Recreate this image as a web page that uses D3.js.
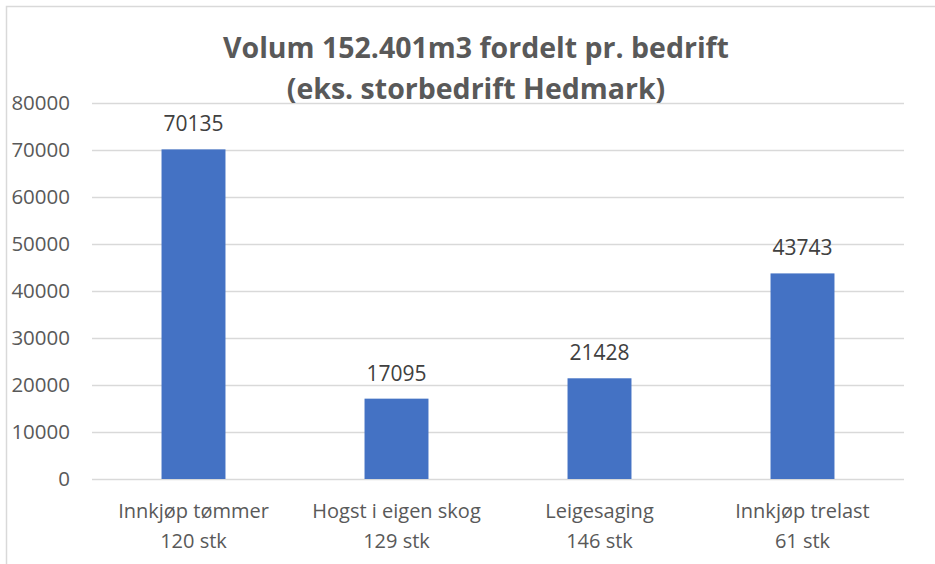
<!DOCTYPE html>
<meta charset="utf-8">
<script src="https://d3js.org/d3.v7.min.js"></script>
<style>
  body { margin: 0; background: #fff; }
  svg { display: block; font-family: "Open Sans", sans-serif; }
</style>
<div id="chart"></div>
<script>
// data
var categories = ["Innkjøp tømmer", "Hogst i eigen skog", "Leigesaging", "Innkjøp trelast"];
var counts = ["120 stk", "129 stk", "146 stk", "61 stk"];
var volumes = [70135, 17095, 21428, 43743];
var yTicks = [0, 10000, 20000, 30000, 40000, 50000, 60000, 70000, 80000];
var titleLines = ["Volum 152.401m3 fordelt pr. bedrift", "(eks. storbedrift Hedmark)"];

var W = 935, H = 564;
var margin = {top: 103, right: 31, bottom: 85, left: 92};
var width = W - margin.left - margin.right,
    height = H - margin.top - margin.bottom;

var svg = d3.select("#chart").append("svg")
  .attr("width", W).attr("height", H);

// chart frame (only top/left edge visible in the crop)
svg.append("rect")
  .attr("x", 6.5).attr("y", 6.5)
  .attr("width", W + 20).attr("height", H + 20)
  .attr("fill", "none").attr("stroke", "#d9d9d9").attr("stroke-width", 1.5);

var g = svg.append("g")
  .attr("transform", "translate(" + margin.left + "," + margin.top + ")");

var x = d3.scaleBand()
  .domain(categories)
  .range([0, width])
  .paddingInner(0.685)
  .paddingOuter(0.3425);

var y = d3.scaleLinear()
  .domain([0, 80000])
  .range([height, 0]);

// gridlines
g.append("g")
  .call(d3.axisLeft(y).tickValues(yTicks).tickSize(-width).tickFormat(""))
  .call(function(s){ s.select(".domain").remove(); })
  .selectAll("line")
    .attr("stroke", "#d9d9d9").attr("stroke-width", 1.5);

// y tick labels
g.append("g")
  .call(d3.axisLeft(y).tickValues(yTicks).tickSize(0).tickPadding(22).tickFormat(d3.format("d")))
  .call(function(s){ s.select(".domain").remove(); })
  .selectAll("text")
    .attr("font-family", "Open Sans")
    .attr("font-size", "20.5px")
    .attr("fill", "#595959");

// bars
g.selectAll(".bar")
  .data(volumes)
  .enter().append("rect")
    .attr("class", "bar")
    .attr("x", function(d, i){ return x(categories[i]); })
    .attr("y", function(d){ return y(d); })
    .attr("width", x.bandwidth())
    .attr("height", function(d){ return height - y(d); })
    .attr("fill", "#4472c4");

// value labels
g.selectAll(".val")
  .data(volumes)
  .enter().append("text")
    .attr("class", "val")
    .attr("x", function(d, i){ return x(categories[i]) + x.bandwidth() / 2; })
    .attr("y", function(d){ return y(d) - 18; })
    .attr("text-anchor", "middle")
    .attr("font-size", "21px")
    .attr("fill", "#404040")
    .text(function(d){ return d; });

// category labels, two lines
var cat = g.selectAll(".cat")
  .data(categories)
  .enter().append("text")
    .attr("class", "cat")
    .attr("text-anchor", "middle")
    .attr("font-size", "20px")
    .attr("fill", "#595959")
    .attr("transform", function(d){ return "translate(" + (x(d) + x.bandwidth() / 2) + "," + (height + 39) + ")"; });
cat.append("tspan").attr("x", 0).attr("y", 0).text(function(d){ return d; });
cat.append("tspan").attr("x", 0).attr("y", 30).text(function(d, i){ return counts[i]; });

// title
svg.append("text")
  .attr("x", 476).attr("y", 58)
  .attr("text-anchor", "middle")
  .attr("font-size", "28.5px")
  .attr("font-weight", "bold")
  .attr("fill", "#595959")
  .selectAll("tspan")
  .data(titleLines)
  .enter().append("tspan")
    .attr("x", 476)
    .attr("dy", function(d, i){ return i === 0 ? 0 : 41; })
    .text(function(d){ return d; });
</script>
